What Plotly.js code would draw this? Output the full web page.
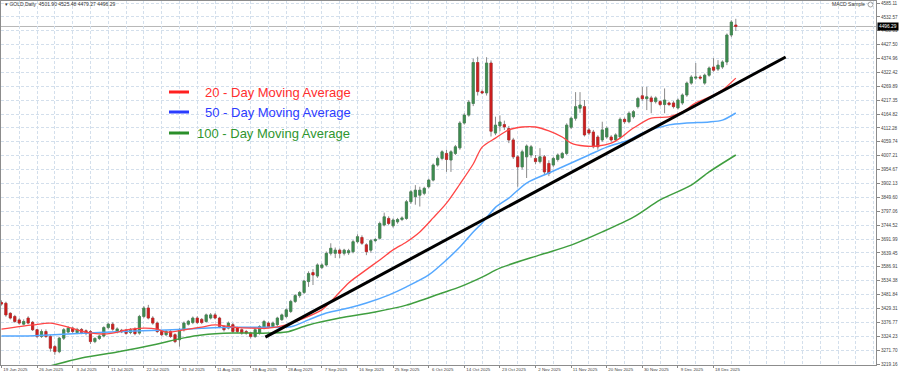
<!DOCTYPE html>
<html>
<head>
<meta charset="utf-8">
<script src="https://cdn.plot.ly/plotly-3.0.1.min.js"></script>
<style>html,body{margin:0;padding:0;background:#fff;}#chart{width:900px;height:372px;}</style>
</head>
<body>
<div id="chart"></div>
<script>
// ---- Candles (daily GOLD) ----
const openP = [
3452,3449,3411,3399,3386,3370,3393,3377,3349,3323,
3342,3323,3285,3266,3317,3340,3355,3338,3350,3345,
3342,3304,3316,3325,3357,3370,3340,3347,3347,3338,
3352,3336,3399,3431,3393,3374,3342,3330,3342,3330,
3311,3349,3370,3376,3393,3388,3380,3393,3405,3393,
3361,3355,3368,3355,3349,3342,3336,3323,3336,3355,
3374,3361,3368,3387,3399,3418,3456,3478,3490,3531,
3565,3552,3584,3594,3638,3638,3650,3638,3640,3644,
3682,3698,3670,3650,3686,3695,3745,3770,3742,3757,
3766,3770,3833,3852,3858,3865,3890,3915,3972,3997,
4016,3991,4016,4037,4131,4161,4205,4360,4250,4245,
4358,4093,4120,4125,4110,4067,4003,3965,4003,4010,
3997,3985,4003,3978,3972,3993,4000,4016,4115,4149,
4187,4193,4105,4097,4078,4067,4078,4078,4067,4078,
4145,4136,4155,4193,4234,4223,4226,4212,4212,4201,
4207,4207,4188,4207,4237,4282,4301,4305,4282,4312,
4343,4335,4343,4362,4464,4501.90];
const highP = [
3460,3455,3415,3405,3392,3388,3400,3382,3352,3350,
3350,3330,3292,3322,3355,3362,3360,3356,3355,3350,
3348,3320,3330,3362,3375,3377,3358,3352,3352,3355,
3358,3405,3438,3443,3400,3380,3348,3348,3348,3335,
3355,3380,3386,3399,3400,3393,3410,3412,3412,3398,
3366,3380,3374,3360,3354,3348,3340,3355,3366,3386,
3380,3380,3398,3410,3430,3462,3484,3495,3538,3570,
3578,3600,3600,3645,3676,3660,3656,3655,3655,3688,
3710,3706,3676,3692,3696,3758,3792,3778,3770,3772,
3778,3840,3878,3896,3890,3890,3920,3978,4004,4028,
4030,4028,4048,4138,4168,4218,4375,4382,4258,4380,
4368,4155,4160,4140,4120,4075,4010,4030,4050,4048,
4010,4036,4010,3990,4003,4016,4022,4130,4155,4248,
4248,4218,4112,4105,4085,4136,4118,4085,4092,4152,
4152,4175,4180,4230,4268,4268,4234,4232,4218,4262,
4212,4214,4224,4243,4288,4312,4358,4312,4318,4345,
4377,4369,4368,4470,4520,4525.48];
const lowP = [
3440,3398,3388,3375,3368,3365,3370,3344,3318,3318,
3318,3266,3254,3260,3310,3335,3336,3332,3332,3328,
3295,3298,3310,3320,3350,3345,3335,3336,3330,3332,
3328,3330,3393,3388,3368,3336,3325,3325,3318,3298,
3285,3342,3365,3370,3370,3370,3376,3388,3388,3355,
3342,3350,3336,3336,3330,3330,3316,3318,3330,3350,
3355,3355,3362,3382,3393,3412,3450,3470,3484,3511,
3518,3545,3578,3588,3630,3620,3620,3630,3632,3638,
3676,3670,3631,3640,3680,3690,3740,3745,3735,3750,
3760,3765,3825,3822,3815,3858,3884,3910,3966,3990,
3946,3946,4010,4030,4125,4155,4195,4235,4240,4235,
4080,4085,4100,4105,4055,3995,3890,3955,3923,4000,
3975,3978,3934,3930,3965,3985,3995,4010,4108,4140,
4170,4080,4085,4035,4030,4060,4072,4060,4060,4072,
4128,4130,4148,4186,4215,4180,4168,4205,4195,4168,
4195,4186,4182,4200,4230,4276,4295,4295,4276,4306,
4325,4328,4336,4350,4456,4479.27];
const closeP = [
3446,3405,3393,3380,3374,3380,3374,3349,3323,3342,
3323,3279,3266,3317,3349,3355,3342,3350,3338,3335,
3304,3316,3325,3357,3370,3351,3352,3341,3335,3350,
3334,3399,3431,3393,3374,3342,3330,3342,3323,3304,
3349,3374,3381,3393,3376,3376,3405,3405,3393,3361,
3349,3374,3342,3342,3336,3336,3323,3349,3361,3380,
3361,3374,3393,3405,3424,3456,3478,3490,3533,3562,
3556,3594,3594,3638,3657,3650,3638,3650,3648,3682,
3701,3676,3644,3686,3690,3751,3776,3751,3764,3766,
3772,3833,3871,3877,3877,3884,3915,3972,3997,4022,
3993,4022,4041,4131,4161,4210,4360,4250,4245,4358,
4100,4123,4135,4116,4067,4003,3965,4022,4044,4041,
3985,4003,3946,3940,3997,4010,4016,4123,4149,4193,
4199,4086,4093,4041,4041,4105,4111,4067,4086,4145,
4136,4168,4174,4224,4223,4230,4212,4226,4201,4218,
4201,4193,4218,4237,4282,4305,4305,4301,4312,4339,
4331,4350,4362,4464,4513,4496.29];

const ma20Bars = [0,7,11,15,18,22,25,28,32,35,37,41,45,48,52,56,60,64,67,72,75,78,81,85,88,91,94,97,100,103,106,108,111,114,117,120,123,126,128,131,134,137,139,142,146,150,153,156,159,162,165];
const ma20Vals = [3351,3367,3374,3359,3344,3333,3336,3348,3355,3351,3340,3348,3359,3367,3359,3355,3355,3367,3386,3424,3473,3526,3564,3613,3651,3681,3719,3772,3828,3900,3976,4040,4074,4105,4116,4116,4101,4078,4055,4044,4044,4055,4074,4112,4150,4154,4173,4207,4229,4256,4301];
const ma50Bars = [0,5,15,22,30,37,45,52,60,65,69,73,78,82,87,91,96,100,103,106,108,111,114,118,123,127,132,136,141,144,150,154,159,162,165];
const ma50Vals = [3325,3325,3333,3338,3344,3348,3354,3358,3358,3360,3386,3412,3431,3450,3480,3511,3556,3613,3662,3719,3753,3812,3847,3904,3942,3972,4010,4040,4067,4093,4124,4131,4135,4142,4169];
const ma100Bars = [11,18,26,34,41,45,52,60,64,69,76,84,91,99,103,108,112,121,128,135,142,148,155,159,165];
const ma100Vals = [3212,3242,3265,3291,3318,3329,3336,3336,3340,3367,3393,3416,3442,3488,3511,3548,3582,3632,3669,3719,3775,3840,3896,3946,4010];

// ---- Trend line (two anchor points) ----
const trendBars = [59.3, 176.2];
const trendPrices = [3321, 4381];

// ---- Axis labels ----
const dateLabels = ['19 Jun 2025','26 Jun 2025','3 Jul 2025','11 Jul 2025','22 Jul 2025','31 Jul 2025','11 Aug 2025','19 Aug 2025','28 Aug 2025','7 Sep 2025','16 Sep 2025','25 Sep 2025','6 Oct 2025','14 Oct 2025','23 Oct 2025','2 Nov 2025','11 Nov 2025','20 Nov 2025','30 Nov 2025','9 Dec 2025','18 Dec 2025'];
const priceLabels = ['3219.16','3271.70','3324.23','3376.77','3429.31','3481.84','3534.38','3586.91','3639.45','3691.99','3744.52','3797.06','3849.60','3902.13','3954.67','4007.21','4059.74','4112.28','4164.82','4217.35','4269.89','4322.42','4374.96','4427.50','4480.03','4532.57','4585.11'];
const legendNames = ['20 - Day Moving Average','50 - Day Moving Average','100 - Day Moving Average'];
const headerText = 'GOLD,Daily  4501.90 4525.48 4479.27 4496.29';

// ---- Build ----
const bars = openP.map((_, i) => i);
const bodyHi = openP.map((o, i) => Math.max(o, closeP[i]));
const bodyLo = openP.map((o, i) => Math.min(o, closeP[i]));
const lastClose = closeP[closeP.length - 1];

const GREEN = '#3d8b4f', RED = '#cc1f1f', WICK = '#8a8a8a';

const traces = [
  {type:'scatter', mode:'lines', x: ma100Bars, y: ma100Vals, line:{color:'#3f9e3f', width:1.5, shape:'spline', smoothing:0.8}, hoverinfo:'skip'},
  {type:'scatter', mode:'lines', x: ma50Bars, y: ma50Vals, line:{color:'#55a8ff', width:1.5, shape:'spline', smoothing:0.8}, hoverinfo:'skip'},
  {type:'candlestick', x: bars, open: openP, high: highP, low: lowP, close: closeP,
   increasing:{line:{color:WICK, width:1}, fillcolor:WICK}, decreasing:{line:{color:WICK, width:1}, fillcolor:WICK}, whiskerwidth:0, hoverinfo:'skip'},
  {type:'candlestick', x: bars, open: openP, high: bodyHi, low: bodyLo, close: closeP,
   increasing:{line:{color:GREEN, width:0.5}, fillcolor:GREEN}, decreasing:{line:{color:RED, width:0.5}, fillcolor:RED}, whiskerwidth:0, hoverinfo:'skip'},
  {type:'scatter', mode:'lines', x: ma20Bars, y: ma20Vals, line:{color:'#ff4545', width:1.3, shape:'spline', smoothing:0.8}, hoverinfo:'skip'},
  {type:'scatter', mode:'lines', x: trendBars, y: trendPrices, line:{color:'#000000', width:3}, hoverinfo:'skip', cliponaxis:false}
];

// pixel helpers for layout-only placement (plot area: x 1..876, y 1..365)
const PX = px => (px - 1) / 875;
const PY = py => 1 - (py - 1) / 364;

const legendColors = ['#ff2e2e', '#2e3cff', '#2f962f'];
const legendLineColors = ['#ff2020', '#2a3cff', '#2a8f2a'];
const legendY = [92, 112, 133];
const legendTextX = [203, 203, 195];

const shapes = [
  {type:'line', xref:'paper', yref:'y', x0:0, x1:1, y0:lastClose, y1:lastClose, line:{color:'#b8b8b8', width:1}, layer:'below'},
  {type:'circle', xref:'paper', yref:'paper', x0:PX(868), x1:PX(873), y0:PY(7), y1:PY(2), line:{color:'#666', width:0.6}}
];
const annotations = [
  {xref:'paper', yref:'paper', x:PX(3), y:PY(4.5), xanchor:'left', yanchor:'middle', showarrow:false, text:'▾ ' + headerText, font:{family:'Liberation Sans, Arial, sans-serif', size:5, color:'#333'}},
  {xref:'paper', yref:'paper', x:PX(867), y:PY(4.5), xanchor:'right', yanchor:'middle', showarrow:false, text:'MACD Sample', font:{family:'Liberation Sans, Arial, sans-serif', size:5, color:'#333'}},
  {xref:'paper', yref:'y', x:1, y:lastClose, xanchor:'left', yanchor:'middle', xshift:1, showarrow:false, text:lastClose.toFixed(2), bgcolor:'#000', borderpad:1, font:{family:'Liberation Sans, Arial, sans-serif', size:4.8, color:'#fff'}}
];
legendNames.forEach((name, k) => {
  shapes.push({type:'line', xref:'paper', yref:'paper', x0:PX(169), x1:PX(189), y0:PY(legendY[k]), y1:PY(legendY[k]), line:{color:legendLineColors[k], width:3}});
  annotations.push({xref:'paper', yref:'paper', x:PX(legendTextX[k]), y:PY(legendY[k]), xanchor:'left', yanchor:'middle', showarrow:false, text:name, font:{family:'Liberation Sans, Arial, sans-serif', size:13, color:legendColors[k]}});
});

const GRID = '#d3dfec';
const layout = {
  width:900, height:372,
  margin:{l:1, r:24, t:1, b:7, pad:0},
  paper_bgcolor:'#ffffff', plot_bgcolor:'#ffffff',
  showlegend:false, hovermode:false,
  xaxis:{
    type:'linear', range:[-0.1, 196.5], rangeslider:{visible:false},
    tickmode:'array', tickvals: dateLabels.map((_, k) => k * 8), ticktext: dateLabels,
    ticks:'outside', ticklen:2, tickcolor:'#888', tickwidth:1,
    tickfont:{family:'Liberation Sans, Arial, sans-serif', size:4.4, color:'#444'},
    ticklabelshift:14, ticklabelstandoff:-2,
    showgrid:true, gridcolor:GRID, griddash:'3px,2px', gridwidth:1,
    minor:{tickmode:'linear', tick0:0, dtick:4, showgrid:true, gridcolor:GRID, griddash:'3px,2px', gridwidth:1, ticks:''},
    zeroline:false, showline:true, linecolor:'#8c8c8c', linewidth:1, mirror:true, fixedrange:true
  },
  yaxis:{
    side:'right', range:[3215.38, 4592.75],
    tickmode:'array', tickvals: priceLabels.map(Number), ticktext: priceLabels,
    ticks:'outside', ticklen:3, tickcolor:'#888', tickwidth:1,
    tickfont:{family:'Liberation Sans, Arial, sans-serif', size:4.6, color:'#444'},
    showgrid:true, gridcolor:GRID, griddash:'3px,2px', gridwidth:1,
    zeroline:false, showline:true, linecolor:'#8c8c8c', linewidth:1, mirror:true, fixedrange:true
  },
  shapes: shapes,
  annotations: annotations
};

Plotly.newPlot('chart', traces, layout, {staticPlot:true, displayModeBar:false});
</script>
</body>
</html>
